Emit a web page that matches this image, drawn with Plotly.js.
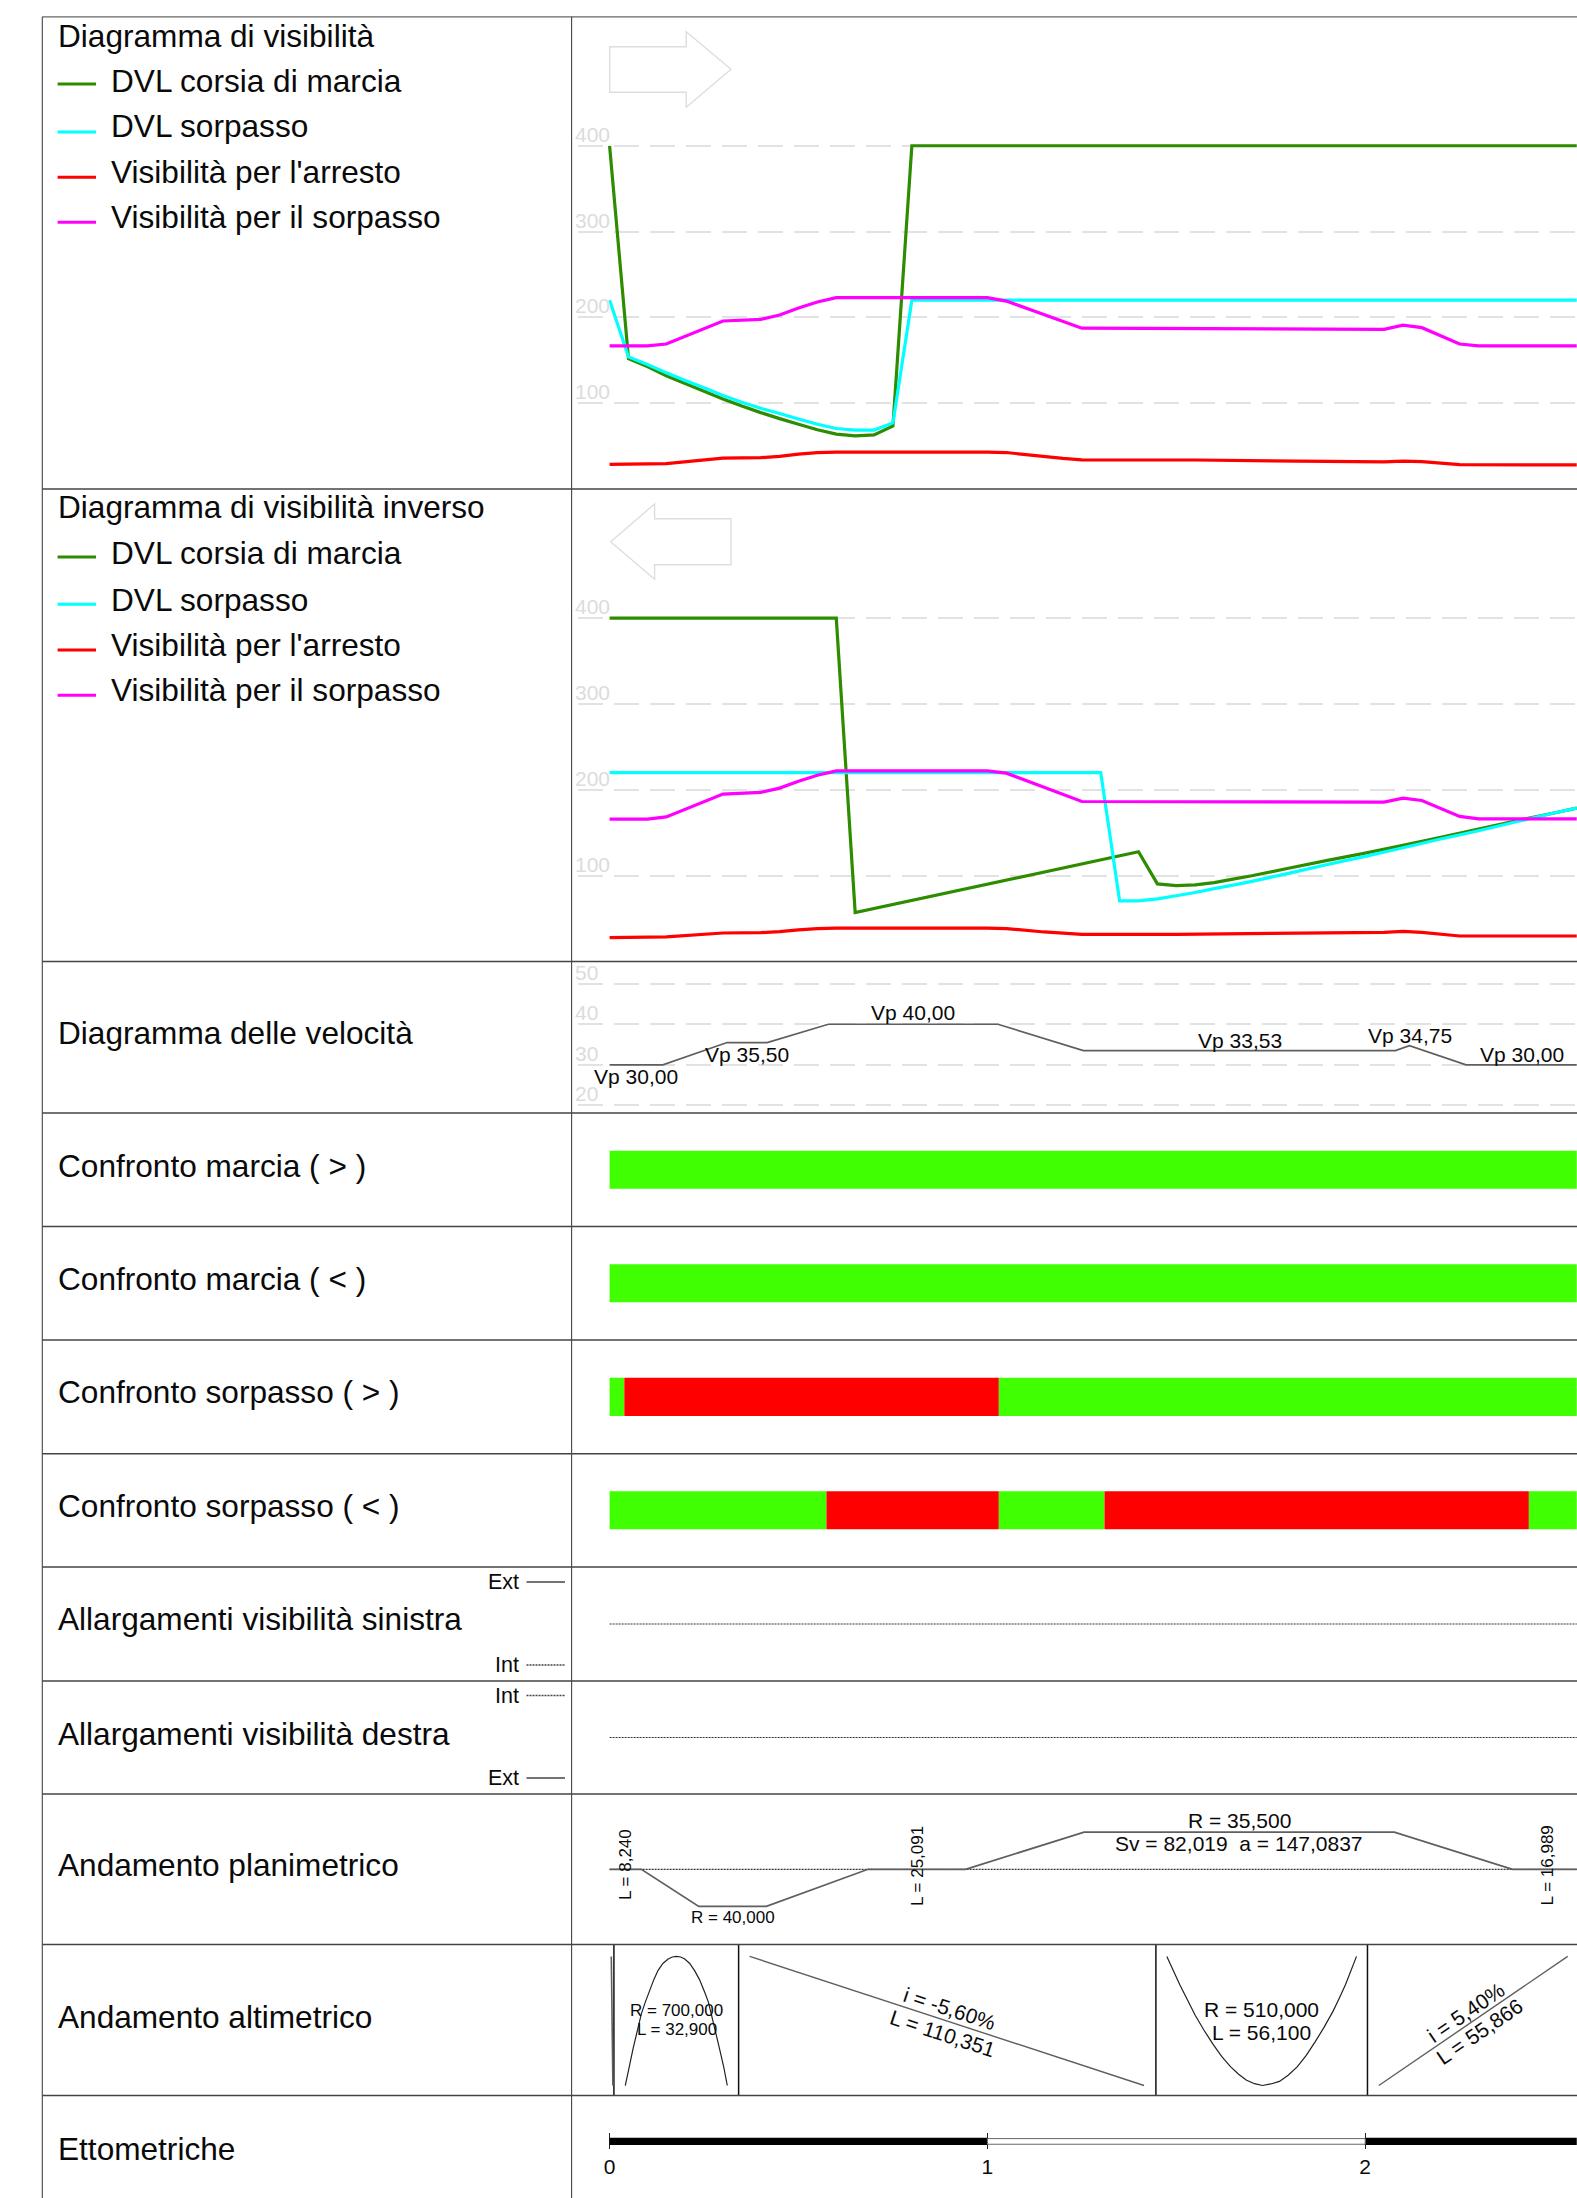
<!DOCTYPE html>
<html>
<head>
<meta charset="utf-8">
<script src="https://cdn.plot.ly/plotly-3.0.1.min.js"></script>
<style>html,body{margin:0;padding:0;background:#fff}#chart{width:1577px;height:2198px}</style>
</head>
<body>
<div id="chart"></div>
<script>
// ---------- DATA (progressive in metres) ----------
const rowTitles = ["Diagramma di visibilità","Diagramma di visibilità inverso","Diagramma delle velocità",
  "Confronto marcia ( > )","Confronto marcia ( < )","Confronto sorpasso ( > )","Confronto sorpasso ( < )",
  "Allargamenti visibilità sinistra","Allargamenti visibilità destra","Andamento planimetrico","Andamento altimetrico","Ettometriche"];
const seriesNames = ["DVL corsia di marcia","DVL sorpasso","Visibilità per l'arresto","Visibilità per il sorpasso"];
const gridVis = [100,200,300,400];
const gridVel = [20,30,40,50];

const dvlMarciaX = [0,5,10,15,20,25,30,35,40,45,50,55,60,65,70,75,80,256];
const dvlMarciaY = [400,152,142.6,132,123,114,105,96.7,89,82,75.5,69,64,62,63,73.5,400,400];
const dvlSorpX   = [0,5,10,15,20,25,30,35,40,45,50,55,60,65,70,75,80,256];
const dvlSorpY   = [220,154,145,135.5,126.5,118,109,101,94,88,81.5,75.5,70.5,68.7,68.7,77,220,220];
const arrestoX   = [0,15,30,40,45,50,55,60,100,105,120,125,155,205,210,215,225,256];
const arrestoY   = [28.7,29.5,36,36.5,38,40.6,42.3,43,43,42.5,35.7,34,33.8,31.5,32.6,31.9,28.4,28];
const sorpassoX  = [0,10,15,30,40,45,50,55,60,100,105,125,205,210,215,225,230,256];
const sorpassoY  = [166.7,166.7,169,195.8,197.7,202.8,211,218,223,223,219,187.4,186,191,188,169,166.7,166.7];

const invMarciaX = [0,60,65,140,145,150,155,160,165,170,180,190,200,210,220,230,240,250,256];
const invMarciaY = [400,400,57,127.9,90.5,88.4,89.3,92,96,100,109,117.8,126.3,135.3,144.6,154.3,164,173,178.7];
const invSorpX   = [0,130,135,140,145,150,155,160,165,170,180,190,200,210,220,230,240,250,256];
const invSorpY   = [220,220,70.7,70.7,73,76.7,80.5,85,89,93.4,103,113,122.5,132.5,142.7,152.3,162.8,173,178.7];
const invArrX    = [0,15,30,40,45,50,55,60,100,105,115,125,150,205,210,215,225,256];
const invArrY    = [28,28.7,33.3,33.7,35,37,38.4,39,39,38.4,34.5,31.8,31.8,34,35.3,34,29.8,29.8];
const invSorX    = [0,10,15,30,40,45,50,55,60,100,105,125,205,210,215,225,230,256];
const invSorY    = [166,166,168.5,195,197,202,210,217,222,222,219.4,186.4,185.7,190.3,187.6,169,166.3,166.3];

const velX = [0,14.1,31.1,41.7,57.9,102.8,125.4,208,211.7,226.7,256];
const velY = [30,30,35.5,35.5,40,40,33.53,33.53,34.75,30,30];
const velLabels = ["Vp 30,00","Vp 35,50","Vp 40,00","Vp 33,53","Vp 34,75","Vp 30,00"];

const roadEnd = 256;
const marciaAvStart = [0],      marciaAvEnd = [256];
const marciaInStart = [0],      marciaInEnd = [256];
const sorpAvGreenStart = [0,103],        sorpAvGreenEnd = [3.9,256];
const sorpAvRedStart   = [3.9],          sorpAvRedEnd   = [103];
const sorpInGreenStart = [0,103,243.3],  sorpInGreenEnd = [57.4,131,256];
const sorpInRedStart   = [57.4,131],     sorpInRedEnd   = [103,243.3];

const planX = [0,8.4,23.6,41.5,68.4,94.2,125.6,207.7,239,256];
const planY = [0,0,-1,-1,0,0,1,1,0,0];
const planLabels = ["L = 8,240","R = 40,000","L = 25,091","R = 35,500","Sv = 82,019  a = 147,0837","L = 16,989"];

const altBreaks = [1.14,34.15,144.6,200.6];
const altStartX = [0.45,0.87],            altStartY = [1,0];
const altCrestX = [4.15,5.2,6.2,7.3,8.4,9.5,10.6,11.7,12.8,14.1,15.5,16.6,17.65,18.8,19.9,21.2,22.5,23.8,25.2,26.1,26.9,28,29.1,30.2,31.15];
const altCrestY = [0,.145,.284,.42,.555,.65,.735,.82,.89,.945,.98,.995,1,.995,.98,.945,.89,.82,.72,.65,.555,.42,.284,.145,0];
const altGrade1X = [37.07,141.46],        altGrade1Y = [1,0];
const altSagX = [147.5,149.2,150.9,153,155,157.3,159.7,162,164.4,166.5,168.5,170.7,172.8,175,177.3,179.6,182,184.4,186.7,189.1,191.5,193.2,194.8,197.7];
const altSagY = [1,.89,.783,.66,.544,.43,.32,.225,.144,.087,.042,.014,0,.012,.032,.08,.144,.233,.336,.45,.576,.68,.783,1];
const altGrade2X = [203.6,253.6],         altGrade2Y = [0,1];
const altLabels = ["R = 700,000","L = 32,900","i = -5,60%","L = 110,351","R = 510,000","L = 56,100","i = 5,40%","L = 55,866"];

const ettoBlackStart = [0,200], ettoBlackEnd = [100,256];
const ettoWhiteStart = [100],   ettoWhiteEnd = [200];
const ettoTicks = [0,100,200];
const ettoLabels = ["0","1","2"];

// ---------- LAYOUT HELPERS ----------
const W = 1577, H = 2198;
const FONT = "Liberation Sans, Arial, sans-serif";
const px = v => v / W, py = v => 1 - v / H;
const rowEdges = [16.8,489,961.6,1113,1226.6,1340,1453.7,1567,1681,1794,1944.6,2095.5,2198];
const frameLeft = 42.3, frameMid = 571.6;
const xAt0 = 609.6, xScale = 3.778;
const dom = i => [py(rowEdges[i+1]), py(rowEdges[i])];
const GREEN="#2d8c00", CYAN="#00ffff", RED="#ff0000", MAG="#ff00ff";
const BAR_G="#40ff00", BAR_R="#ff0000", GRID="#e2e2e2", GRAY="#5f5f5f", INK="#0a0a0a";
const LW = 3.2;

const line = (x,y,ax,color,width,dash) => ({type:"scatter",mode:"lines",x,y,xaxis:"x",yaxis:ax,
  line:{color,width,dash:dash||"solid",simplify:false},hoverinfo:"skip",showlegend:false});
const span = (s,e,yv,ax,w,color,outline) => ({type:"bar",orientation:"h",base:s,x:s.map((v,i)=>e[i]-v),
  y:s.map(()=>yv),width:s.map(()=>w),xaxis:"x",yaxis:ax,
  marker:{color,line:{color:outline||color,width:outline?1:0}},hoverinfo:"skip",showlegend:false});

const traces = [
  line(dvlMarciaX,dvlMarciaY,"y",GREEN,LW), line(dvlSorpX,dvlSorpY,"y",CYAN,LW),
  line(arrestoX,arrestoY,"y",RED,LW), line(sorpassoX,sorpassoY,"y",MAG,LW),
  line(invMarciaX,invMarciaY,"y2",GREEN,LW), line(invSorpX,invSorpY,"y2",CYAN,LW),
  line(invArrX,invArrY,"y2",RED,LW), line(invSorX,invSorY,"y2",MAG,LW),
  line(velX,velY,"y3",GRAY,1.7),
  span(marciaAvStart,marciaAvEnd,.5,"y4",.335,BAR_G),
  span(marciaInStart,marciaInEnd,.5,"y5",.335,BAR_G),
  span(sorpAvGreenStart,sorpAvGreenEnd,.5,"y6",.335,BAR_G), span(sorpAvRedStart,sorpAvRedEnd,.5,"y6",.335,BAR_R),
  span(sorpInGreenStart,sorpInGreenEnd,.5,"y7",.335,BAR_G), span(sorpInRedStart,sorpInRedEnd,.5,"y7",.335,BAR_R),
  line([0,roadEnd],[0,0],"y8","#333333",1.2,"2px,1px"),
  line([0,roadEnd],[0,0],"y9","#333333",1.2,"2px,1px"),
  line([0,roadEnd],[0,0],"y10","#333333",1.2,"2px,1px"),
  line(planX,planY,"y10",GRAY,1.7),
  line(altBreaks.flatMap(b=>[b,b,null]),altBreaks.flatMap(()=>[-0.08,1.1,null]),"y11","#111111",1.5),
  line(altStartX,altStartY,"y11",GRAY,1.6),
  line(altCrestX,altCrestY,"y11","#222222",1.2),
  line(altGrade1X,altGrade1Y,"y11",GRAY,1.4),
  line(altSagX,altSagY,"y11","#222222",1.2),
  line(altGrade2X,altGrade2Y,"y11",GRAY,1.4),
  span(ettoBlackStart,ettoBlackEnd,.552,"y12",.072,"#000000"),
  span(ettoWhiteStart,ettoWhiteEnd,.552,"y12",.055,"#ffffff","#666666")
];

const yBase = (i,range,grid) => ({domain:dom(i),range,anchor:"x",fixedrange:true,showline:false,zeroline:false,
  showticklabels:false,ticks:"",showgrid:!!grid,gridcolor:GRID,gridwidth:2,griddash:"0px,6px,25px,5px",
  tickmode:grid?"array":"auto",tickvals:grid||undefined});

const visRange=[0,550.3];
const layout = {
  width:W,height:H,margin:{l:0,r:0,t:0,b:0},paper_bgcolor:"#fff",plot_bgcolor:"rgba(0,0,0,0)",
  showlegend:false,barmode:"overlay",font:{family:FONT,color:INK,size:21},
  xaxis:{domain:[frameMid/W,1],range:[(frameMid-xAt0)/xScale,(W-xAt0)/xScale],anchor:"free",position:1-2149/H,
    fixedrange:true,showgrid:false,zeroline:false,showline:false,
    tickmode:"array",tickvals:ettoTicks,ticktext:ettoLabels,ticks:"inside",ticklen:16,tickwidth:1.2,tickcolor:"#222",
    ticklabelstandoff:3,tickfont:{family:FONT,size:21,color:INK}},
  yaxis:yBase(0,visRange,gridVis),
  yaxis2:yBase(1,visRange,gridVis),
  yaxis3:yBase(2,[18.15,55.43],gridVel),
  yaxis4:yBase(3,[0,1]),yaxis5:yBase(4,[0,1]),yaxis6:yBase(5,[0,1]),yaxis7:yBase(6,[0,1]),
  yaxis8:yBase(7,[-1,1]),yaxis9:yBase(8,[-1,1]),
  yaxis10:yBase(9,[-2.03,2.03]),
  yaxis11:yBase(10,[-0.0774,1.0913]),
  yaxis12:yBase(11,[0,1]),
  shapes:[],annotations:[]
};

const L = (x0,y0,x1,y1,color,width,dash) => layout.shapes.push({type:"line",xref:"paper",yref:"paper",layer:"above",
  x0:px(x0),x1:px(x1),y0:py(y0),y1:py(y1),line:{color,width,dash:dash||"solid"}});
const T = (text,x,y,size,anchor,color,angle) => layout.annotations.push({text,xref:"paper",yref:"paper",x:px(x),y:py(y),
  showarrow:false,xanchor:anchor||"center",yanchor:"middle",borderpad:0,textangle:angle||0,
  font:{family:FONT,size,color:color||INK}});

// table frame
rowEdges.slice(0,-1).forEach((e,i)=>L(frameLeft,e,W,e,i===0?"#666":"#444",i===0?1.2:1.5));
L(frameLeft,rowEdges[0],frameLeft,H,"#444",1.1);
L(frameMid,rowEdges[0],frameMid,H,"#444",1.1);

// direction arrows
const poly = pts => "M"+pts.map(p=>px(p[0])+","+py(p[1])).join(" L")+" Z";
[[[609.7,46.7],[686.2,46.7],[686.2,31.7],[731,69.3],[686.2,107.3],[686.2,92.3],[609.7,92.3]],
 [[610.7,541.7],[654.6,504],[654.6,518.7],[731,518.7],[731,564.7],[654.6,564.7],[654.6,579.3]]]
 .forEach(p=>layout.shapes.push({type:"path",xref:"paper",yref:"paper",path:poly(p),line:{color:"#dedede",width:1.4}}));

// left column titles
const titleY=[35.7,507,1033,1166,1279,1392,1506,1619.4,1733.5,1865,2016.5,2149];
const TITLE=31.6;
rowTitles.forEach((t,i)=>T(t,57,titleY[i],TITLE,"left"));

// left column legends
const legColors=[GREEN,CYAN,RED,MAG];
const legTextY=[[80.7,125.7,171.7,217.3],[553,600,645,690]];
const legLineY=[[84,132,177.3,222.3],[557,604.3,650,695.3]];
legTextY.forEach((ys,r)=>ys.forEach((y,i)=>{
  T(seriesNames[i],110,y,TITLE,"left");
  L(57.6,legLineY[r][i],96,legLineY[r][i],legColors[i],3);
}));

// widening keys
[["Ext",1582,"solid"],["Int",1665,"2px,1px"],["Int",1695.5,"2px,1px"],["Ext",1778,"solid"]].forEach(k=>{
  T(k[0],520,k[1],21.5,"right");
  L(526.5,k[1],565,k[1],"#444",1.3,k[2]);
});

// grid labels
const gridLabel=(v,ax)=>layout.annotations.push({text:String(v),xref:"paper",yref:ax,x:px(574),y:v,showarrow:false,
  xanchor:"left",yanchor:"bottom",borderpad:0,yshift:-1,font:{family:FONT,size:21,color:"#dcdcdc"}});
gridVis.forEach(v=>{gridLabel(v,"y");gridLabel(v,"y2");});
gridVel.forEach(v=>gridLabel(v,"y3"));

// speed labels
[[635.5,1076],[746.6,1054],[912.5,1013],[1239.5,1040],[1409.5,1035],[1522,1054]]
 .forEach((p,i)=>T(velLabels[i],p[0],p[1],21));

// planimetry labels
T(planLabels[0],625,1865,17,"center",INK,-90);
T(planLabels[1],733,1917,17);
T(planLabels[2],917,1866,17,"center",INK,-90);
T(planLabels[3],1239,1820,21);
T(planLabels[4].replace("  ","&nbsp;&nbsp;"),1239,1843,21);
T(planLabels[5],1547.4,1865,17,"center",INK,-90);

// altimetry labels
T(altLabels[0],676.7,2010.7,17);
T(altLabels[1],676.7,2029.7,17);
T(altLabels[2],949.5,2008.7,21,"center",INK,18.1);
T(altLabels[3],942.8,2033.5,21,"center",INK,18.1);
T(altLabels[4],1261.7,2009.5,21);
T(altLabels[5],1261.7,2032,21);
T(altLabels[6],1465.8,2012.8,21,"center",INK,-34.4);
T(altLabels[7],1479.6,2031.4,21,"center",INK,-34.4);

Plotly.newPlot("chart",traces,layout,{staticPlot:true,displayModeBar:false});
</script>
</body>
</html>
